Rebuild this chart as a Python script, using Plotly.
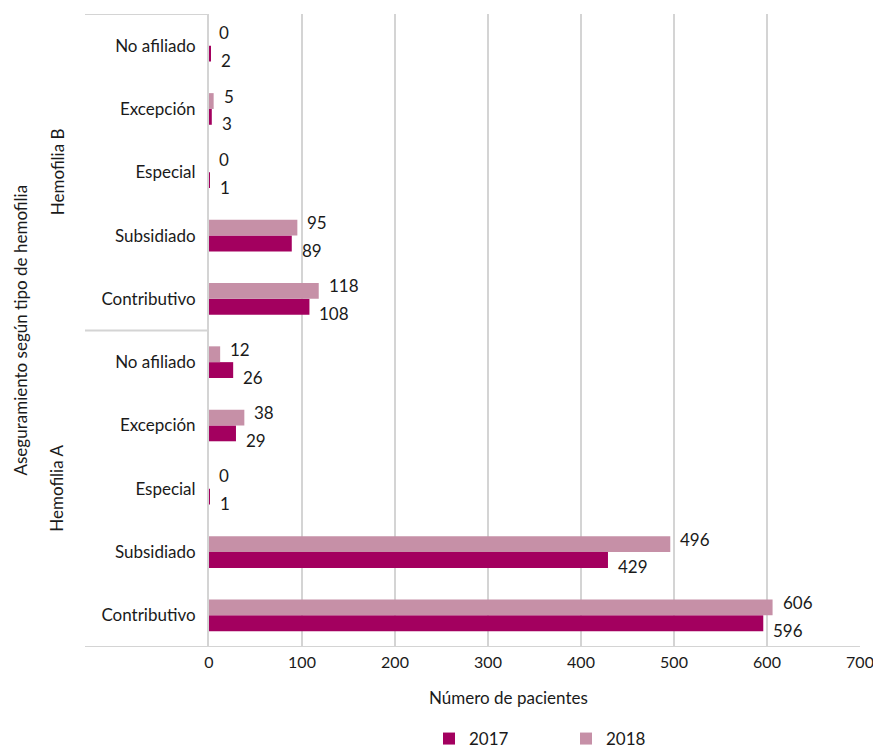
import plotly.graph_objects as go

# ---- data ----
groups = ["Hemofilia A", "Hemofilia B"]
subcats = ["Contributivo", "Subsidiado", "Especial", "Excepción", "No afiliado"]
vals_2017_A = [596, 429, 1, 29, 26]
vals_2018_A = [606, 496, 0, 38, 12]
vals_2017_B = [108, 89, 1, 3, 2]
vals_2018_B = [118, 95, 0, 5, 0]
series_names = ["2017", "2018"]
x_ticks = [0, 100, 200, 300, 400, 500, 600, 700]

FONT = "Lato, sans-serif"
FS = 17
C2017 = "#A3005F"
C2018 = "#C690A7"
TXT = "#1a1a1a"
GRID = "#d4d4d4"

ylabels = subcats + subcats
ypos = list(range(len(ylabels)))
v2017 = vals_2017_A + vals_2017_B
v2018 = vals_2018_A + vals_2018_B

# page body has an 8px margin -> work in page pixels, convert to figure pixels
OFF = 8
W, H = 881 - OFF, 749 - OFF
plot_l, plot_r, plot_t, plot_b = 209 - OFF, 860 - OFF, 14 - OFF, 647 - OFF
ml, mr, mt, mb = plot_l, W - plot_r, plot_t, H - plot_b
pw = plot_r - plot_l
ph = plot_b - plot_t

def px_x(px):  # page px -> paper x
    return (px - OFF - plot_l) / pw

def px_y(py):  # page px -> paper y
    return (plot_b - (py - OFF)) / ph

fig = go.Figure()
fig.add_trace(go.Bar(y=ypos, x=v2017, orientation="h", name=series_names[0],
                     marker=dict(color=C2017, line=dict(width=0))))
fig.add_trace(go.Bar(y=ypos, x=v2018, orientation="h", name=series_names[1],
                     marker=dict(color=C2018, line=dict(width=0))))

bargap = 0.5
off = (1 - bargap) / 4

annotations = []
for yi, a, b in zip(ypos, v2017, v2018):
    annotations.append(dict(x=a, y=yi - off, xref="x", yref="y", text=str(a), showarrow=False,
                            xanchor="left", yanchor="middle", xshift=8, yshift=-7,
                            font=dict(family=FONT, size=FS, color=TXT)))
    annotations.append(dict(x=b, y=yi + off, xref="x", yref="y", text=str(b), showarrow=False,
                            xanchor="left", yanchor="middle", xshift=8, yshift=5,
                            font=dict(family=FONT, size=FS, color=TXT)))

n = len(subcats)
annotations.append(dict(x=px_x(57), y=(n - 1) / 2, xref="paper", yref="y", text=groups[0],
                        showarrow=False, textangle=-90, xanchor="center", yanchor="middle",
                        font=dict(family=FONT, size=FS, color=TXT)))
annotations.append(dict(x=px_x(57), y=n + (n - 1) / 2, xref="paper", yref="y", text=groups[1],
                        showarrow=False, textangle=-90, xanchor="center", yanchor="middle",
                        font=dict(family=FONT, size=FS, color=TXT)))
annotations.append(dict(x=px_x(20), y=(len(ypos) - 1) / 2, xref="paper", yref="y",
                        text="Aseguramiento según tipo de hemofilia",
                        showarrow=False, textangle=-90, xanchor="center", yanchor="middle",
                        font=dict(family=FONT, size=FS, color=TXT)))
annotations.append(dict(x=px_x(508), y=px_y(697), xref="paper", yref="paper",
                        text="Número de pacientes", showarrow=False, xanchor="center", yanchor="middle",
                        font=dict(family=FONT, size=FS, color=TXT)))

shapes = []
xl = px_x(85)
for yv in [len(ypos) - 0.5, n - 0.5]:
    shapes.append(dict(type="line", xref="paper", yref="y", x0=xl, x1=0, y0=yv, y1=yv,
                       line=dict(color=GRID, width=2)))
shapes.append(dict(type="line", xref="paper", yref="y", x0=xl, x1=1, y0=-0.5, y1=-0.5,
                   line=dict(color=GRID, width=2)))

fig.update_layout(
    width=W, height=H,
    margin=dict(l=ml, r=mr, t=mt, b=mb, autoexpand=False),
    paper_bgcolor="white", plot_bgcolor="white",
    barmode="group", bargap=bargap, bargroupgap=0,
    font=dict(family=FONT, size=FS, color=TXT),
    showlegend=True,
    legend=dict(orientation="h", x=px_x(566), xanchor="center", y=px_y(721), yanchor="top",
                font=dict(family=FONT, size=FS, color=TXT), entrywidth=92, itemwidth=30,
                traceorder="normal"),
    xaxis=dict(range=[x_ticks[0], x_ticks[-1]], tickvals=x_ticks, showgrid=True, gridcolor=GRID,
               gridwidth=2, zeroline=False, showline=False, ticks="", ticklabelstandoff=4,
               tickfont=dict(family=FONT, size=16, color=TXT), fixedrange=True),
    yaxis=dict(range=[-0.5, len(ypos) - 0.5], tickvals=ypos, ticktext=ylabels, showgrid=False,
               zeroline=False, showline=True, linecolor=GRID, linewidth=2, ticks="",
               ticklabelstandoff=8, tickfont=dict(family=FONT, size=FS, color=TXT)),
    annotations=annotations,
    shapes=shapes,
)

fig.write_html("out.html")
